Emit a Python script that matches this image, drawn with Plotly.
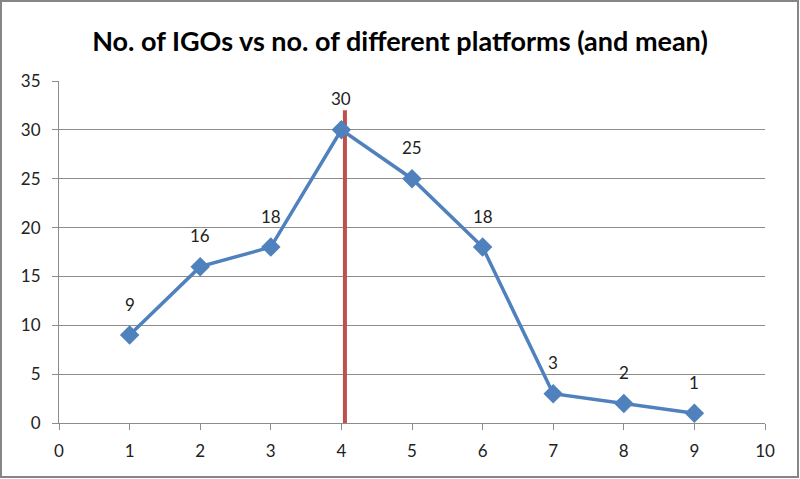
import plotly.graph_objects as go

platforms = [1, 2, 3, 4, 5, 6, 7, 8, 9]
igo_counts = [9, 16, 18, 30, 25, 18, 3, 2, 1]
mean_x = [4.05, 4.05]
mean_y = [-0.2, 32]

blue = "#4F81BD"
red = "#C0504D"
grid = "#8C8C8C"
font_family = "Lato, Open Sans, sans-serif"

fig = go.Figure()
fig.add_trace(go.Scatter(
    x=mean_x, y=mean_y, mode="lines",
    line=dict(color=red, width=4), hoverinfo="skip", showlegend=False, cliponaxis=False))
fig.add_trace(go.Scatter(
    x=platforms, y=igo_counts, mode="lines+markers",
    line=dict(color=blue, width=3.5),
    marker=dict(symbol="diamond", size=15, color=blue),
    showlegend=False, cliponaxis=False))

annotations = [dict(x=xv, y=yv, text=str(yv), showarrow=False, xref="x", yref="y",
                    yshift=31, font=dict(family=font_family, size=17, color="#222"))
               for xv, yv in zip(platforms, igo_counts)]

W, H = 800, 479
L, R, T, B = 59, 35, 81, 56
pw, ph = W - L - R, H - T - B

fig.update_layout(
    width=W, height=H,
    margin=dict(l=L, r=R, t=T, b=B),
    paper_bgcolor="white", plot_bgcolor="white",
    title=dict(text="<b>No. of IGOs vs no. of different platforms (and mean)</b>",
               x=0.5, xanchor="center", y=1 - 42 / H, yanchor="middle",
               font=dict(family=font_family, size=27, color="black")),
    xaxis=dict(range=[0, 10], tickvals=list(range(0, 11)), showgrid=False,
               zeroline=False, showline=True, linecolor=grid, linewidth=1,
               ticks="outside", ticklen=6, tickcolor=grid, ticklabelstandoff=7,
               tickfont=dict(family=font_family, size=17, color="#222")),
    yaxis=dict(range=[0, 35], tickvals=list(range(0, 36, 5)), showgrid=True,
               gridcolor=grid, gridwidth=1, zeroline=False, showline=True,
               linecolor=grid, linewidth=1, ticks="outside", ticklen=6, tickcolor=grid,
               ticklabelstandoff=8,
               tickfont=dict(family=font_family, size=17, color="#222")),
    annotations=annotations,
    shapes=[dict(type="rect", xref="paper", yref="paper",
                 x0=(1 - L) / pw, x1=(W - 2 - L) / pw,
                 y0=(H - B - (H - 2)) / ph, y1=(H - B - 1) / ph,
                 line=dict(color="#868686", width=2), fillcolor="rgba(0,0,0,0)")],
)

fig.write_html("out.html", config={"displayModeBar": False},
               post_script="document.body.style.margin='0';")
